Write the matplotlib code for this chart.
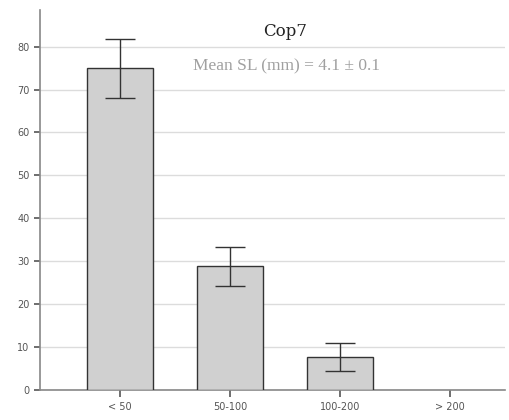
import matplotlib.pyplot as plt

# Percentage of individuals per size class
categories = ['< 50', '50-100', '100-200', '> 200']
percent = [75.0, 28.8, 7.7, 0.0]
err_low = [68.0, 24.2, 4.4, None]
err_high = [81.8, 33.3, 11.0, None]

fig = plt.figure(figsize=(5.1, 4.2), dpi=100)
ax = fig.add_axes([0.078, 0.071, 0.912, 0.905])

x = list(range(len(categories)))
# empty classes get no bar outline
bx = [i for i in x if percent[i] > 0]
ax.bar(bx, [percent[i] for i in bx], width=0.6, color='#d0d0d0', edgecolor='#333333',
       linewidth=1.0, zorder=3)

# error bars (asymmetric)
ex = [i for i in x if err_low[i] is not None]
ey = [percent[i] for i in ex]
lo = [percent[i] - err_low[i] for i in ex]
hi = [err_high[i] - percent[i] for i in ex]
ax.errorbar(ex, ey, yerr=[lo, hi], fmt='none', ecolor='#333333', elinewidth=1.0,
            capsize=11, capthick=1.0, zorder=4)

ax.set_xlim(-0.73, 3.5)
ax.set_ylim(0, 88.5)
ax.set_yticks(range(0, 90, 10))
ax.set_xticks(x)
ax.set_xticklabels(categories)
ax.yaxis.grid(True, color='#dcdcdc', linewidth=1.0, zorder=0)

for s in ['top', 'right']:
    ax.spines[s].set_visible(False)
for s in ['left', 'bottom']:
    ax.spines[s].set_color('#888888')
    ax.spines[s].set_linewidth(1.2)
ax.tick_params(colors='#555555', labelsize=7, length=4, width=1.2)
ax.tick_params(axis='x', length=5)

fig.text(0.559, 0.924, 'Cop7', ha='center', va='center',
         fontsize=12, family='DejaVu Serif', color='#222222')
fig.text(0.561, 0.841, 'Mean SL (mm) = 4.1 \u00b1 0.1',
         ha='center', va='center', fontsize=12.5, family='Liberation Serif', color='#a0a0a0')

fig.savefig('out.png', dpi=100)
